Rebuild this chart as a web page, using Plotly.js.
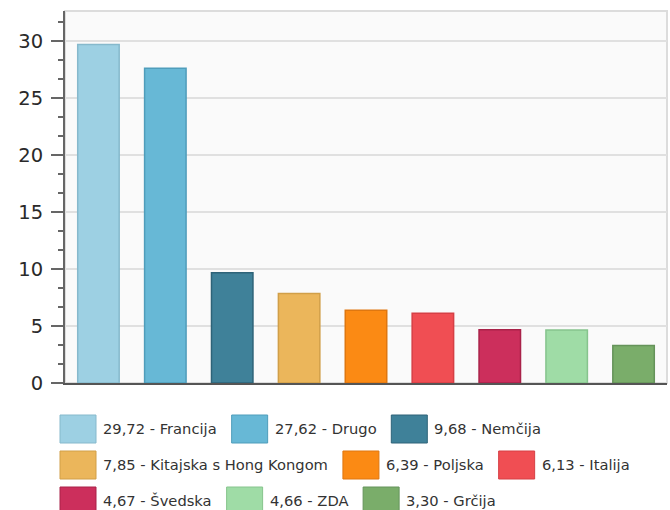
<!DOCTYPE html>
<html><head><meta charset="utf-8">
<script src="https://cdn.plot.ly/plotly-3.0.1.min.js"></script>
<style>html,body{margin:0;padding:0;background:#fff}#chart{width:670px;height:510px}</style>
</head><body><div id="chart"></div>
<script>
const categories = ["Francija","Drugo","Nemčija","Kitajska s Hong Kongom","Poljska","Italija","Švedska","ZDA","Grčija"];
const values = [29.72,27.62,9.68,7.85,6.39,6.13,4.67,4.66,3.30];
const colors = ["#9dd0e3","#67b8d6","#3f8199","#ebb65b","#fb8a14","#f04e53","#cc2f5c","#9fdca6","#7aad6a"];
const lineColors = ["#86b9cc","#4f9dbb","#2e6378","#d19f48","#df7710","#d63f45","#a92249","#86c48d","#65935a"];

const W=670,H=510,L=65,R=667,T=11,B=383;
const pw=R-L, ph=B-T;
const px2x = p => (p-L)/pw;
const py2y = p => (B-p)/ph;

const legendFont = 'DejaVu Sans';
const legendSize = 14.7;
const ctx = document.createElement('canvas').getContext('2d');
ctx.font = legendSize+'px "'+legendFont+'"';

const shapes=[], annotations=[];
shapes.push({type:'rect',xref:'paper',yref:'paper',x0:0,x1:1,y0:0,y1:1,line:{color:'#dcdcdc',width:2},fillcolor:'rgba(0,0,0,0)',layer:'below'});

let x=60, rowTop=415;
const sw=36, sh=28, gapText=7, gapItem=15, rowStep=36, maxRight=667;
categories.forEach((c,i)=>{
  const label = values[i].toFixed(2).replace('.',',')+' - '+c;
  const tw = ctx.measureText(label).width;
  if (x>60 && x+sw+gapText+tw>maxRight){x=60;rowTop+=rowStep;}
  shapes.push({type:'rect',xref:'paper',yref:'paper',x0:px2x(x),x1:px2x(x+sw),y0:py2y(rowTop+sh),y1:py2y(rowTop),fillcolor:colors[i],line:{color:lineColors[i],width:1}});
  annotations.push({xref:'paper',yref:'paper',x:px2x(x+sw+gapText-2),y:py2y(rowTop+sh/2-0.5),xanchor:'left',yanchor:'middle',text:label,showarrow:false,font:{family:legendFont,size:legendSize,color:'#333'}});
  x += sw+gapText+tw+gapItem;
});

const trace = {
  type:'bar', x:categories, y:values,
  marker:{color:colors, line:{color:lineColors, width:1.5}},
  hoverinfo:'x+y', showlegend:false
};

const layout = {
  width:W, height:H,
  margin:{l:L, r:W-R, t:T, b:H-B, pad:0},
  paper_bgcolor:'#ffffff', plot_bgcolor:'#fafafa',
  bargap:0.38,
  showlegend:false,
  xaxis:{type:'category', range:[-0.5,8.5], showticklabels:false, ticks:'', showgrid:false, zeroline:false,
         showline:true, linecolor:'#555', linewidth:2, fixedrange:true},
  yaxis:{range:[0,32.65], tick0:0, dtick:5, ticks:'outside', ticklen:12, tickwidth:1.5, tickcolor:'#666',
         showline:true, linecolor:'#666', linewidth:2, gridcolor:'#e0e0e0', gridwidth:1.5, zeroline:false,
         minor:{dtick:5/3, tick0:0, ticks:'outside', ticklen:5, tickwidth:1.5, tickcolor:'#666', showgrid:false},
         ticklabelstandoff:4,
         tickfont:{family:'DejaVu Sans', size:19.5, color:'#2a2a2a'}, fixedrange:true},
  shapes:shapes, annotations:annotations
};
Plotly.newPlot('chart',[trace],layout,{displayModeBar:false, staticPlot:true});
</script>
</body></html>
